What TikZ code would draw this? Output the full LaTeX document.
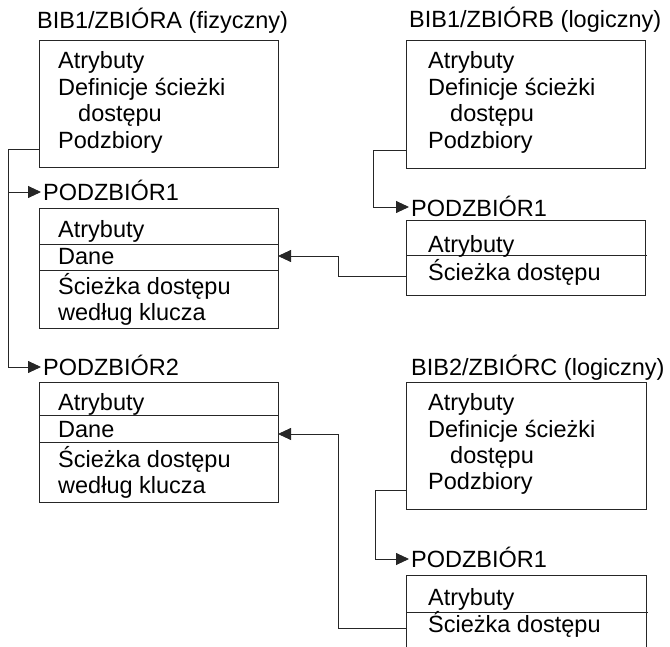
\documentclass[tikz,border=0pt]{standalone}
\usepackage{fontspec}
\setmainfont{Liberation Sans}
\usetikzlibrary{arrows.meta}
\tikzset{
  box/.style={draw=black!85, line width=0.9pt},
  line/.style={draw=black!85, line width=0.9pt},
  arr/.style={line, -{Triangle[length=13pt,width=12pt]}},
  txt/.style={anchor=base west, inner sep=0pt, font=\fontsize{23.5}{26}\selectfont},
}
\begin{document}
\begin{tikzpicture}[x=1pt,y=-1pt]
\useasboundingbox (0,0) rectangle (670,647);

% ---------- Box A ----------
\node[txt] (tA) at (37,29) {BIB1/ZBIÓRA (fizyczny)};
\draw[box] (39,40) rectangle (278,167);
\node[txt] (a1) at (58,69) {Atrybuty};
\node[txt] (a2) at (58,96) {Definicje ścieżki};
\node[txt] (a3) at (78,122) {dostępu};
\node[txt] (a4) at (58,149) {Podzbiory};
\coordinate (Aout) at (39,149);

% ---------- P1 ----------
\node[txt] (lP1) at (43,201) {PODZBIÓR1};
\coordinate (P1tip) at (41,192);
\draw[box] (39,208) rectangle (278,328);
\draw[line] (39,244) -- (278,244);
\draw[line] (39,270) -- (278,270);
\node[txt] (p11) at (58,238) {Atrybuty};
\node[txt] (p12) at (58,265) {Dane};
\node[txt] (p13) at (58,295) {Ścieżka dostępu};
\node[txt] (p14) at (58,321) {według klucza};
\coordinate (P1in) at (278,256);

% ---------- P2 ----------
\node[txt] (lP2) at (43,376) {PODZBIÓR2};
\coordinate (P2tip) at (41,367);
\draw[box] (39,382) rectangle (278,502);
\draw[line] (39,415) -- (278,415);
\draw[line] (39,442) -- (278,442);
\node[txt] (p21) at (58,410) {Atrybuty};
\node[txt] (p22) at (58,437) {Dane};
\node[txt] (p23) at (58,467) {Ścieżka dostępu};
\node[txt] (p24) at (58,493) {według klucza};
\coordinate (P2in) at (278,434);

% ---------- Box B ----------
\node[txt] (tB) at (409,28) {BIB1/ZBIÓRB (logiczny)};
\draw[box] (406,40) rectangle (645,168);
\node[txt] (b1) at (428,69) {Atrybuty};
\node[txt] (b2) at (428,96) {Definicje ścieżki};
\node[txt] (b3) at (450,122) {dostępu};
\node[txt] (b4) at (428,149) {Podzbiory};
\coordinate (Bout) at (406,150);

% ---------- BP1 ----------
\node[txt] (lBP1) at (411,217) {PODZBIÓR1};
\coordinate (BP1tip) at (409,207);
\draw[box] (406,220) rectangle (645,295);
\draw[line] (406,255) -- (647,255);
\node[txt] (bp1) at (428,253) {Atrybuty};
\node[txt] (bp2) at (428,281) {Ścieżka dostępu};
\coordinate (BP1out) at (406,276);

% ---------- Box C ----------
\node[txt] (tC) at (411,375) {BIB2/ZBIÓRC (logiczny)};
\draw[box] (406,382) rectangle (646,509);
\node[txt] (c1) at (428,410) {Atrybuty};
\node[txt] (c2) at (428,437) {Definicje ścieżki};
\node[txt] (c3) at (450,463) {dostępu};
\node[txt] (c4) at (428,489) {Podzbiory};
\coordinate (Cout) at (406,490);

% ---------- CP1 ----------
\node[txt] (lCP1) at (411,567) {PODZBIÓR1};
\coordinate (CP1tip) at (409,559);
\draw[box] (406,648) -- (406,575) -- (646,575) -- (646,648);
\draw[line] (406,612) -- (648,612);
\node[txt] (cp1) at (428,605) {Atrybuty};
\node[txt] (cp2) at (428,632) {Ścieżka dostępu};
\coordinate (CP1out) at (406,628);

% ---------- connectors ----------
\draw[line] (Aout) -| (8,367);
\draw[arr] (8,192) -- (P1tip);
\draw[arr] (8,367) -- (P2tip);
\draw[arr] (Bout) -| (373,207) -- (BP1tip);
\draw[arr] (Cout) -| (375,559) -- (CP1tip);
\draw[arr] (BP1out) -| (338,256) -- (P1in);
\draw[arr] (CP1out) -| (338,434) -- (P2in);
\end{tikzpicture}
\end{document}
